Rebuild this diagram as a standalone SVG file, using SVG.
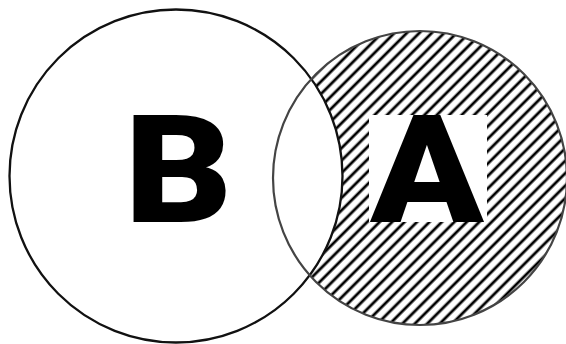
<svg xmlns="http://www.w3.org/2000/svg" width="566" height="344" viewBox="0 0 566 344">
<style>
.lbl{font-family:Roboto,"Liberation Sans",sans-serif;font-weight:900;fill:#000}
</style>
<defs>
<pattern id="hatch" width="8.8" height="8.8" patternUnits="userSpaceOnUse" patternTransform="rotate(45)">
<rect width="8.8" height="8.8" fill="#fff"/>
<line x1="3" y1="0" x2="3" y2="8.8" stroke="#000" stroke-width="2.8"/>
</pattern>
</defs>
<rect width="566" height="344" fill="#fff"/>
<g id="setA-fill">
<circle cx="420" cy="178" r="147" fill="url(#hatch)"/>
</g>
<g id="setB">
<circle cx="176" cy="176" r="166.5" fill="#fff" stroke="#111" stroke-width="2.3"/>
<text class="lbl" x="0" y="0" font-size="150" text-anchor="middle" transform="translate(178.5,222) scale(1.115,1)">B</text>
</g>
<g id="setA">
<circle cx="420" cy="178" r="147" fill="none" stroke="#444" stroke-width="2.2"/>
<rect x="369" y="115" width="118" height="107" fill="#fff"/>
<text class="lbl" x="0" y="0" font-size="150" text-anchor="middle" transform="translate(427,222) scale(1.11,1)">A</text>
</g>
</svg>
